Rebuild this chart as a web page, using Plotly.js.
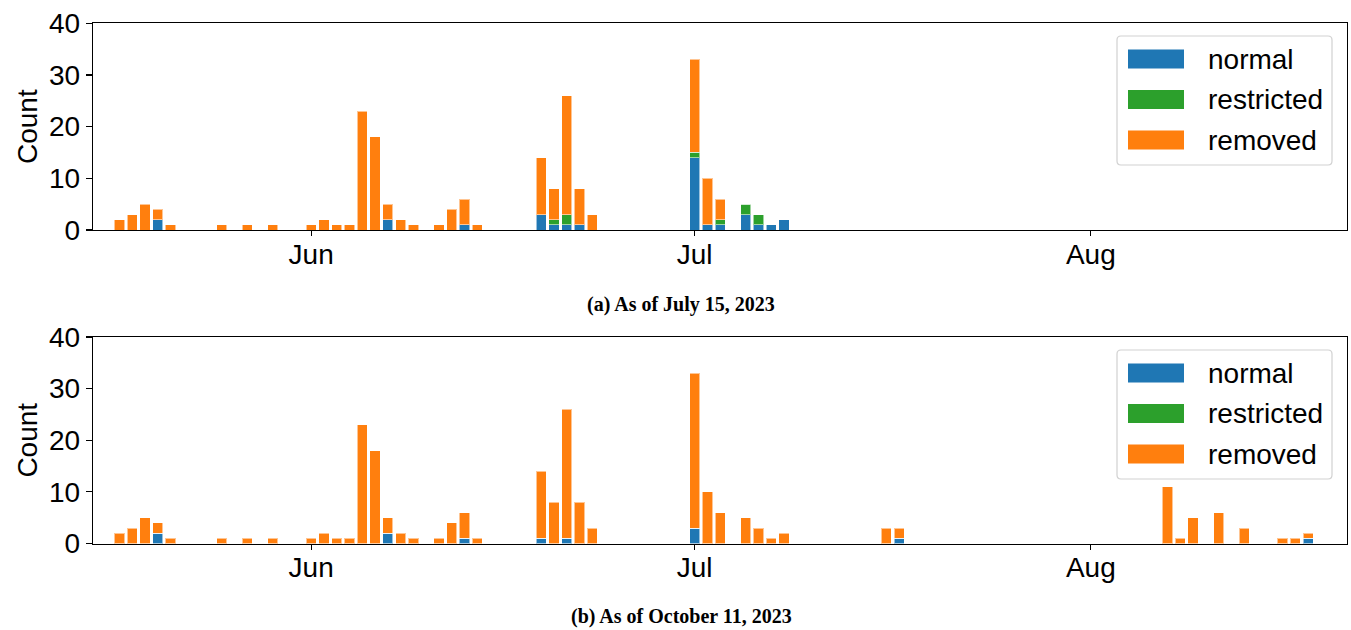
<!DOCTYPE html>
<html>
<head>
<meta charset="utf-8">
<script src="https://cdn.plot.ly/plotly-3.0.1.min.js"></script>
<style>html,body{margin:0;padding:0;background:#fff;}#chart{width:1351px;height:630px;}</style>
</head>
<body>
<div id="chart"></div>
<script>
// Panel (a): as of July 15, 2023
const datesA = ['2023-05-17','2023-05-18','2023-05-19','2023-05-20','2023-05-21','2023-05-25','2023-05-27','2023-05-29',
  '2023-06-01','2023-06-02','2023-06-03','2023-06-04','2023-06-05','2023-06-06','2023-06-07','2023-06-08','2023-06-09',
  '2023-06-11','2023-06-12','2023-06-13','2023-06-14','2023-06-19','2023-06-20','2023-06-21','2023-06-22','2023-06-23',
  '2023-07-01','2023-07-02','2023-07-03','2023-07-05','2023-07-06','2023-07-07','2023-07-08'];
const normalA     = [0,0,0,2,0,0,0,0, 0,0,0,0,0,0,2,0,0, 0,0,1,0,3,1,1,1,0, 14,1,1,3,1,1,2];
const restrictedA = [0,0,0,0,0,0,0,0, 0,0,0,0,0,0,0,0,0, 0,0,0,0,0,1,2,0,0, 1,0,1,2,2,0,0];
const removedA    = [2,3,5,2,1,1,1,1, 1,2,1,1,23,18,3,2,1, 1,4,5,1,11,6,23,7,3, 18,9,4,0,0,0,0];

// Panel (b): as of October 11, 2023
const datesB = ['2023-05-17','2023-05-18','2023-05-19','2023-05-20','2023-05-21','2023-05-25','2023-05-27','2023-05-29',
  '2023-06-01','2023-06-02','2023-06-03','2023-06-04','2023-06-05','2023-06-06','2023-06-07','2023-06-08','2023-06-09',
  '2023-06-11','2023-06-12','2023-06-13','2023-06-14','2023-06-19','2023-06-20','2023-06-21','2023-06-22','2023-06-23',
  '2023-07-01','2023-07-02','2023-07-03','2023-07-05','2023-07-06','2023-07-07','2023-07-08','2023-07-16','2023-07-17',
  '2023-08-07','2023-08-08','2023-08-09','2023-08-11','2023-08-13','2023-08-16','2023-08-17','2023-08-18'];
const normalB     = [0,0,0,2,0,0,0,0, 0,0,0,0,0,0,2,0,0, 0,0,1,0,1,0,1,0,0, 3,0,0,0,0,0,0,0,1, 0,0,0,0,0,0,0,1];
const restrictedB = [0,0,0,0,0,0,0,0, 0,0,0,0,0,0,0,0,0, 0,0,0,0,0,0,0,0,0, 0,0,0,0,0,0,0,0,0, 0,0,0,0,0,0,0,0];
const removedB    = [2,3,5,2,1,1,1,1, 1,2,1,1,23,18,3,2,1, 1,4,5,1,13,8,25,8,3, 30,10,6,5,3,1,2,3,2, 11,1,5,6,3,1,1,1];

const seriesNames = ['normal','restricted','removed'];
const seriesColors = ['#1f77b4','#2ca02c','#ff7f0e'];
const xTickVals = ['2023-06-01','2023-07-01','2023-08-01'];
const xTickText = ['Jun','Jul','Aug'];
const yTickVals = [0,10,20,30,40];
const captions = ['(a) As of July 15, 2023','(b) As of October 11, 2023'];

const W = 1351, H = 630, ML = 93, MR = 4;
const PW = W - ML - MR;
const px2x = px => (px - ML) / PW;
const px2y = py => 1 - py / H;

const DAY = 86400000;
const edge = {color:'rgba(255,255,255,0.55)', width:1};
function barTraces(dates, vals, xa, ya) {
  return vals.map((v,i)=>({
    type:'bar', x:dates, y:v, name:seriesNames[i], xaxis:xa, yaxis:ya,
    width:0.8*DAY, marker:{color:seriesColors[i], line:edge}, showlegend:false, hoverinfo:'x+y+name'
  }));
}
const traces = [].concat(
  barTraces(datesA,[normalA,restrictedA,removedA],'x','y'),
  barTraces(datesB,[normalB,restrictedB,removedB],'x2','y2')
);

const tickFont = {family:'Liberation Sans, Arial, sans-serif', size:28, color:'#000'};
const xRange = ['2023-05-14 22:20','2023-08-21 01:00'];
function xAxis(anchor) {
  return {type:'date', range:xRange, tickvals:xTickVals, ticktext:xTickText, ticks:'outside', ticklen:5, tickwidth:1.2,
    tickcolor:'#000', showline:true, linecolor:'#000', linewidth:1.3, mirror:true, showgrid:false, zeroline:false,
    tickfont:tickFont, anchor:anchor, domain:[0,1], ticklabelstandoff:-6};
}
function yAxis(dom, anchor) {
  return {range:[0,40], tickvals:yTickVals, ticks:'outside', ticklen:6, tickwidth:1.2, tickcolor:'#000',
    showline:true, linecolor:'#000', linewidth:1.3, mirror:true, showgrid:false, zeroline:false,
    tickfont:tickFont, domain:dom, anchor:anchor, title:{text:'Count', font:tickFont, standoff:3}};
}

// Legend drawn as a framed box with wide colour patches (one per panel)
const shapes = [], annotations = [];
function roundedRect(x0, y0, x1, y1, r) {
  const rx = r / PW, ry = r / H;
  const X0 = px2x(x0), X1 = px2x(x1), Y0 = px2y(y0), Y1 = px2y(y1);
  return `M${X0+rx},${Y0} L${X1-rx},${Y0} Q${X1},${Y0} ${X1},${Y0-ry} L${X1},${Y1+ry} Q${X1},${Y1} ${X1-rx},${Y1} ` +
         `L${X0+rx},${Y1} Q${X0},${Y1} ${X0},${Y1+ry} L${X0},${Y0-ry} Q${X0},${Y0} ${X0+rx},${Y0} Z`;
}
function addLegend(top) {
  shapes.push({type:'path', xref:'paper', yref:'paper', path:roundedRect(1117, top, 1332, top+129, 4),
    line:{color:'rgba(204,204,204,0.9)', width:1.2}, fillcolor:'rgba(255,255,255,0.8)', layer:'above'});
  seriesNames.forEach((n,i)=>{
    const cy = top + 23 + i*40.5;
    shapes.push({type:'rect', xref:'paper', yref:'paper', x0:px2x(1128), x1:px2x(1184), y0:px2y(cy-9.5), y1:px2y(cy+9.5),
      fillcolor:seriesColors[i], line:{width:0}, layer:'above'});
    annotations.push({text:n, xref:'paper', yref:'paper', x:px2x(1206), y:px2y(cy), xanchor:'left', yanchor:'middle',
      showarrow:false, font:{family:'Liberation Sans, Arial, sans-serif', size:28, color:'#000'}});
  });
}
addLegend(36);
addLegend(350);

const captionFont = {family:'Liberation Serif, serif', size:20, color:'#000'};
annotations.push({text:'<b>'+captions[0]+'</b>', xref:'paper', yref:'paper', x:px2x(681), y:px2y(304),
  xanchor:'center', yanchor:'middle', showarrow:false, font:captionFont});
annotations.push({text:'<b>'+captions[1]+'</b>', xref:'paper', yref:'paper', x:px2x(681), y:px2y(616),
  xanchor:'center', yanchor:'middle', showarrow:false, font:captionFont});

const layout = {
  width:W, height:H, margin:{l:ML, r:MR, t:0, b:0}, paper_bgcolor:'#fff', plot_bgcolor:'#fff',
  barmode:'stack', bargap:0, showlegend:false,
  xaxis:xAxis('y'), yaxis:yAxis([px2y(230), px2y(23.3)],'x'),
  xaxis2:xAxis('y2'), yaxis2:yAxis([px2y(543.5), px2y(337)],'x2'),
  shapes:shapes, annotations:annotations
};
Plotly.newPlot('chart', traces, layout, {displayModeBar:false, staticPlot:true});
</script>
</body>
</html>
